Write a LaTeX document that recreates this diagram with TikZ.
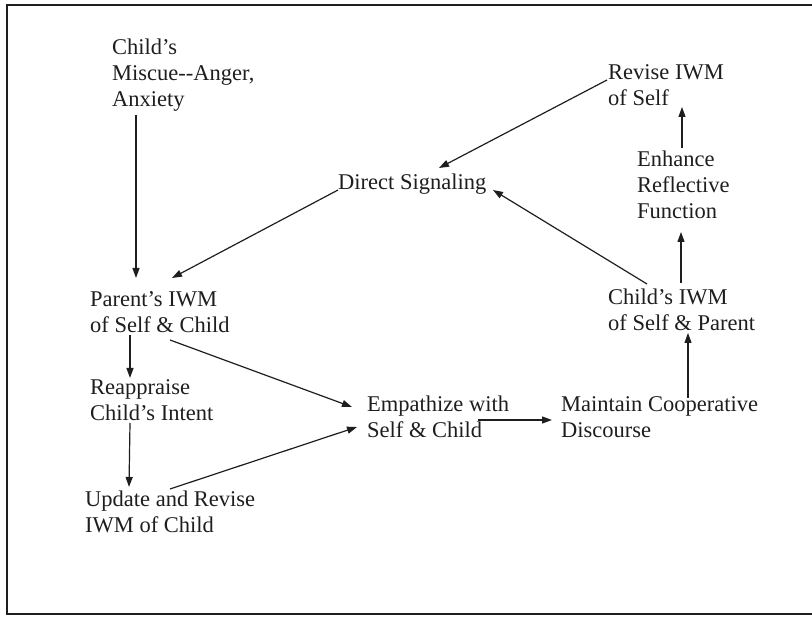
\documentclass[tikz,border=0pt]{standalone}
\usepackage{fontspec}
\setmainfont{Liberation Serif}
\usetikzlibrary{arrows.meta}
\definecolor{ink}{HTML}{1E1E1E}
\tikzset{
  lbl/.style={anchor=base west, align=left, inner sep=0pt, text=ink,
    font=\fontsize{22.5}{26}\selectfont},
  arr/.style={draw=ink, line width=1.2pt, -{Triangle[length=10pt,width=7pt]}},
  frame/.style={draw=ink, line width=2.2pt}
}
\begin{document}
\begin{tikzpicture}[x=1pt,y=-1pt]
\useasboundingbox (0,0) rectangle (812,617);
% open frame (right side runs past the page)
\draw[frame] (812,5) -- (7,5) -- (7,614) -- (812,614);

% text blocks, each placed by the baseline of its last line
\node[lbl] (miscue)    at (112,107) {Child's\\Miscue-{}-Anger,\\Anxiety};
\node[lbl] (revise)    at (608,106) {Revise IWM\\of Self};
\node[lbl] (enhance)   at (637,219) {Enhance\\Reflective\\Function};
\node[lbl] (direct)    at (338,190) {Direct Signaling};
\node[lbl] (childiwm)  at (608,331) {Child's IWM\\of Self \& Parent};
\node[lbl] (parentiwm) at (90,333)  {Parent's IWM\\of Self \& Child};
\node[lbl] (reappraise)at (90,421)  {Reappraise\\Child's Intent};
\node[lbl] (update)    at (85,533)  {Update and Revise\\IWM of Child};
\node[lbl] (empath)    at (367,438) {Empathize with\\Self \& Child};
\node[lbl] (maintain)  at (561,438) {Maintain Cooperative\\Discourse};

% connectors
\draw[arr] ([shift={(24,8)}]miscue.base west) -- ([shift={(46,-55)}]parentiwm.base west);
\draw[arr] (direct.base west) -- ([shift={(82,-55)}]parentiwm.base west);
\draw[arr] ([shift={(-1,-26)}]revise.base west) -- ([shift={(101,-22)}]direct.base west);
\draw[arr] ([shift={(39,-47)}]childiwm.base west) -- ([shift={(155,0)}]direct.base west);
\draw[arr] ([shift={(45,-71)}]enhance.base west) -- ([shift={(74,1)}]revise.base west);
\draw[arr] ([shift={(73,-48)}]childiwm.base west) -- ([shift={(44,13)}]enhance.base west);
\draw[arr] ([shift={(127,-40)}]maintain.base west) -- ([shift={(80,2)}]childiwm.base west);
\draw[arr] ([shift={(111,-18)}]empath.base west) -- ([shift={(-9,-18)}]maintain.base west);
\draw[arr] ([shift={(80,7)}]parentiwm.base west) -- ([shift={(-15,-31)}]empath.base west);
\draw[arr] ([shift={(85,-44)}]update.base west) -- ([shift={(-10,-11)}]empath.base west);
\draw[arr] ([shift={(40,2)}]parentiwm.base west) -- ([shift={(40,-43)}]reappraise.base west);
\draw[arr] ([shift={(40,2)}]reappraise.base west) -- ([shift={(44,-46)}]update.base west);
\end{tikzpicture}
\end{document}
